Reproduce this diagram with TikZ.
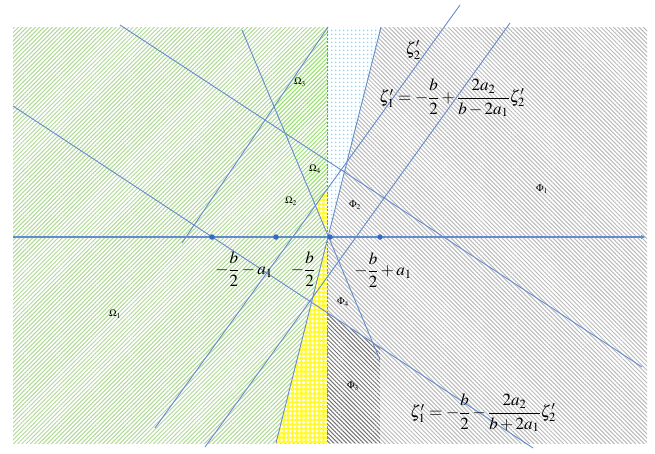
\documentclass[tikz,border=0pt]{standalone}
\usepackage{mathptmx}
\usetikzlibrary{patterns.meta,arrows.meta}
\definecolor{hgreen}{RGB}{175,215,150}
\definecolor{bgreen}{RGB}{150,222,110}
\definecolor{hgray}{RGB}{185,185,185}
\definecolor{dgray}{RGB}{115,115,115}
\definecolor{ylw}{RGB}{255,250,50}
\definecolor{lblue}{RGB}{150,212,238}
\definecolor{lineblue}{RGB}{100,140,205}
\definecolor{dotblue}{RGB}{55,105,190}
\tikzset{
  ln/.style={draw=lineblue,line width=0.9pt},
  greenhatch/.style={pattern={Lines[angle=45,distance=3pt,line width=1pt]},pattern color=hgreen},
  brighthatch/.style={preaction={fill=white},pattern={Lines[angle=45,distance=3pt,line width=1pt]},pattern color=bgreen},
  grayhatch/.style={pattern={Lines[angle=-45,distance=3pt,line width=1pt]},pattern color=hgray},
  darkhatch/.style={preaction={fill=white},pattern={Lines[angle=-45,distance=3pt,line width=1pt]},pattern color=dgray},
  yellowdots/.style={preaction={fill=ylw},pattern={Dots[distance=4.4pt,radius=1.6pt]},pattern color=white},
  bluedots/.style={preaction={fill=white},pattern={Dots[distance=4pt,radius=1.1pt]},pattern color=lblue},
  pt/.style={circle,fill=dotblue,inner sep=0pt,minimum size=5.5pt},
  rlab/.style={font=\fontsize{10}{11}\selectfont,inner sep=0pt},
  eq/.style={font=\fontsize{17}{20}\selectfont,inner sep=0pt}
}
\begin{document}
\begin{tikzpicture}[x=1pt,y=-1pt]
\useasboundingbox (0,0) rectangle (655,453);
% frame
\coordinate (TL) at (13,27);
\coordinate (BL) at (13,443);
\coordinate (VT) at (327,27);
\coordinate (VB) at (327,443);
\coordinate (TR) at (647,27);
\coordinate (BR) at (647,443);
\coordinate (XT) at (380,27);
\coordinate (XB) at (380,443);
% lines
\coordinate (A1) at (120,25);  \coordinate (A2) at (642,367);
\coordinate (B1) at (13,106);  \coordinate (B2) at (533,448);
\coordinate (C1) at (242,30);  \coordinate (C2) at (380,360);
\coordinate (D1) at (460,5);   \coordinate (D2) at (155,428);
\coordinate (E1) at (510,23);  \coordinate (E2) at (205,447);
\coordinate (F1) at (328,27);  \coordinate (F2) at (182,243);
\coordinate (G1) at (381,27);  \coordinate (G2) at (276,443);
% intersections
\coordinate (FC) at (intersection of F1--F2 and C1--C2);
\coordinate (CD) at (intersection of C1--C2 and D1--D2);
\coordinate (DV) at (intersection of D1--D2 and VT--VB);
\coordinate (CV) at (intersection of C1--C2 and VT--VB);
\coordinate (GV) at (intersection of G1--G2 and VT--VB);
\coordinate (BV) at (intersection of B1--B2 and VT--VB);
\coordinate (BX) at (intersection of B1--B2 and XT--XB);
% regions
\fill[greenhatch] (TL) rectangle (VB);
\fill[brighthatch] (VT) -- (FC) -- (CD) -- (DV) -- cycle;
\fill[yellowdots] (CD) -- (DV) -- (CV) -- cycle;
\fill[yellowdots] (GV) -- (G2) -- (VB) -- cycle;
\fill[grayhatch] (VT) rectangle (BR);
\fill[darkhatch] (BV) -- (BX) -- (XB) -- (VB) -- cycle;
\fill[bluedots] (VT) -- (G1) -- (GV) -- cycle;
\draw[lineblue,line width=0.6pt,dash pattern=on 2pt off 1.5pt] (VT) -- (VB);
% lines
\draw[ln] (A1) -- (A2);
\draw[ln] (B1) -- (B2);
\draw[ln] (C1) -- (C2);
\draw[ln] (D1) -- (D2);
\draw[ln] (E1) -- (E2);
\draw[ln] (F1) -- (F2);
\draw[ln] (G1) -- (G2);
% axis
\coordinate (axL) at (13,237);
\coordinate (axR) at (646,237);
\draw[ln,line width=1.1pt,-{Latex[length=5pt,width=4.5pt]}] (axL) -- (axR);
\node[pt] (p1) at (212,237) {};
\node[pt] (p2) at (276,237) {};
\node[pt] (p3) at (330,237) {};
\node[pt] (p4) at (380,237) {};
% region labels
\node[rlab] (o3) at (300,82) {$\Omega_3$};
\node[rlab] (o4) at (315,169) {$\Omega_4$};
\node[rlab] (o2) at (291,201) {$\Omega_2$};
\node[rlab] (o1) at (115,314) {$\Omega_1$};
\node[rlab] (f2) at (355,205) {$\Phi_2$};
\node[rlab] (f1) at (542,189) {$\Phi_1$};
\node[rlab] (f4) at (343,302) {$\Phi_4$};
\node[rlab] (f3) at (353,386) {$\Phi_3$};
% formulas
\node[eq] (z2) at (413,50) {$\zeta_2'$};
\node[eq] (eq1) at (452,98) {$\zeta_1'=-\displaystyle\frac{b}{2}+\frac{2a_2}{b-2a_1}\zeta_2'$};
\node[eq] (eq2) at (483,413) {$\zeta_1'=-\displaystyle\frac{b}{2}-\frac{2a_2}{b+2a_1}\zeta_2'$};
\node[eq] (x1) at (244,269) {$-\displaystyle\frac{b}{2}-a_1$};
\node[eq] (x2) at (303,269) {$-\displaystyle\frac{b}{2}$};
\node[eq] (x3) at (383,270) {$-\displaystyle\frac{b}{2}+a_1$};
\end{tikzpicture}
\end{document}
